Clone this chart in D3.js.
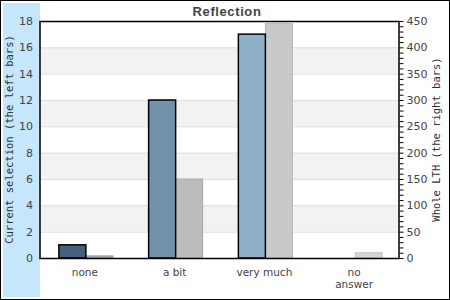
<!DOCTYPE html>
<html>
<head>
<meta charset="utf-8">
<script src="https://cdn.jsdelivr.net/npm/d3@7"></script>
<style>
  body { margin: 0; background: #fff; }
  text { font-family: "DejaVu Sans", Verdana, sans-serif; }
</style>
</head>
<body>
<div id="chart"></div>
<script>
// data
var categories = ["none", "a bit", "very much", "no answer"];
var currentSel = [1, 12, 17, 0];
var wholeLTH = [4, 150, 445, 10];
var leftTicks = [0, 2, 4, 6, 8, 10, 12, 14, 16, 18];
var rightTicks = [0, 50, 100, 150, 200, 250, 300, 350, 400, 450];

var leftColors = ["#45607e", "#7291ab", "#8fb0c9"];
var rightColors = ["#adadad", "#bcbcbc", "#c9c9c9", "#d6d6d6"];

var W = 450, H = 300;
var m = { top: 21, right: 51, bottom: 42, left: 40 };

var svg = d3.select("#chart").append("svg")
  .attr("width", W)
  .attr("height", H);

// outer frame and left band
svg.append("rect").attr("x", 0.5).attr("y", 0.5).attr("width", W - 1).attr("height", H - 1)
  .attr("fill", "#fff").attr("stroke", "#000");
svg.append("rect").attr("x", 3).attr("y", 3).attr("width", 37).attr("height", 294)
  .attr("fill", "#c6e6fc");

var x = d3.scaleBand().domain(categories).range([m.left, W - m.right]);
var yL = d3.scaleLinear().domain([0, 18]).range([H - m.bottom, m.top]);
var yR = d3.scaleLinear().domain([0, 450]).range([H - m.bottom, m.top]);

var g = svg.append("g");

// alternating bands
g.selectAll("rect.band")
  .data(leftTicks.filter(function (d, i) { return i % 2 == 1 && d < 18; }))
  .enter().append("rect")
  .attr("x", m.left).attr("width", W - m.right - m.left)
  .attr("y", function (d) { return yL(d + 2); })
  .attr("height", function (d) { return yL(d) - yL(d + 2); })
  .attr("fill", "#f2f2f2");

// grid lines
g.selectAll("line.grid")
  .data(leftTicks.slice(1, -1))
  .enter().append("line")
  .attr("x1", m.left).attr("x2", W - m.right)
  .attr("y1", function (d) { return yL(d) + 0.5; })
  .attr("y2", function (d) { return yL(d) + 0.5; })
  .attr("stroke", "#dedede");

var bw = 27;

// right bars (whole LTH)
g.selectAll("rect.r")
  .data(wholeLTH)
  .enter().append("rect")
  .attr("x", function (d, i) { return x(categories[i]) + x.bandwidth() / 2 + 1; })
  .attr("width", bw)
  .attr("y", function (d) { return yR(d); })
  .attr("height", function (d) { return yR(0) - yR(d); })
  .attr("fill", function (d, i) { return rightColors[i]; })
  .attr("stroke", function (d, i) { return d3.color(rightColors[i]).darker(0.3); })
  .attr("stroke-width", 1);

// left bars (current selection)
g.selectAll("rect.l")
  .data(currentSel)
  .enter().append("rect")
  .filter(function (d) { return d > 0; })
  .attr("x", function (d, i) { return x(categories[i]) + x.bandwidth() / 2 + 1 - bw; })
  .attr("width", bw)
  .attr("y", function (d) { return yL(d); })
  .attr("height", function (d) { return yL(0) - yL(d); })
  .attr("fill", function (d, i) { return leftColors[i]; })
  .attr("stroke", "#000")
  .attr("stroke-width", 1.5);

// plot frame
svg.append("rect")
  .attr("x", m.left).attr("y", m.top + 0.5)
  .attr("width", W - m.right - m.left).attr("height", H - m.bottom - m.top)
  .attr("fill", "none").attr("stroke", "#000").attr("stroke-width", 1.5);

// left axis labels
svg.append("g").selectAll("text")
  .data(leftTicks)
  .enter().append("text")
  .attr("x", 33).attr("y", function (d) { return yL(d); })
  .attr("dy", "0.35em")
  .attr("text-anchor", "end")
  .attr("font-size", 11).attr("fill", "#444")
  .text(function (d) { return d; });

// right axis with minor ticks
var axR = svg.append("g").attr("transform", "translate(" + (W - m.right + 0.5) + ",0)");
axR.call(d3.axisRight(yR).tickValues(d3.range(0, 451, 10)).tickSize(4).tickFormat(""));
axR.select(".domain").remove();
axR.selectAll(".tick line").attr("stroke", "#000");
axR.selectAll("text.lab")
  .data(rightTicks)
  .enter().append("text")
  .attr("class", "lab")
  .attr("x", 7).attr("y", function (d) { return yR(d); })
  .attr("dy", "0.35em")
  .attr("font-size", 11).attr("fill", "#444")
  .text(function (d) { return d; });

// category labels
svg.append("g").selectAll("text")
  .data(categories)
  .enter().append("text")
  .attr("x", function (d) { return x(d) + x.bandwidth() / 2; })
  .attr("y", 276)
  .attr("text-anchor", "middle")
  .attr("font-size", 10.5).attr("fill", "#444")
  .each(function (d) {
    var parts = d == "no answer" ? ["no", "answer"] : [d];
    var t = d3.select(this);
    parts.forEach(function (p, k) {
      t.append("tspan").attr("x", t.attr("x")).attr("dy", k == 0 ? 0 : "1.15em").text(p);
    });
  });

// axis titles
svg.append("text")
  .attr("transform", "translate(13," + ((m.top + H - m.bottom) / 2) + ") rotate(-90)")
  .attr("text-anchor", "middle")
  .style("font-family", "'DejaVu Sans Mono', monospace")
  .attr("font-size", 10.5).attr("fill", "#333")
  .text("Current selection (the left bars)");

svg.append("text")
  .attr("transform", "translate(440," + ((m.top + H - m.bottom) / 2) + ") rotate(-90)")
  .attr("text-anchor", "middle")
  .style("font-family", "'DejaVu Sans Mono', monospace")
  .attr("font-size", 10.5).attr("fill", "#333")
  .text("Whole LTH (the right bars)");

// title
svg.append("text")
  .attr("x", 227).attr("y", 16)
  .attr("text-anchor", "middle")
  .style("font-family", "'Liberation Sans', Arial, sans-serif")
  .attr("font-size", 13).attr("font-weight", "bold")
  .attr("letter-spacing", 0.6)
  .attr("fill", "#444")
  .text("Reflection");
</script>
</body>
</html>
